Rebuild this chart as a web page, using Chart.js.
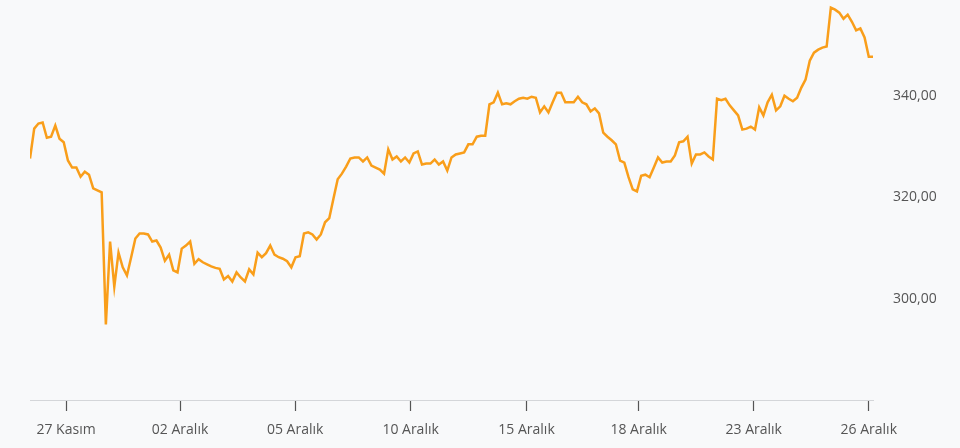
<!DOCTYPE html>
<html>
<head>
<meta charset="utf-8">
<script src="https://cdn.jsdelivr.net/npm/chart.js@4"></script>
<style>
  html, body { margin: 0; padding: 0; background: #f8f9fa; }
  #wrap { width: 960px; height: 448px; position: relative; }
</style>
</head>
<body>
<div id="wrap"><canvas id="c"></canvas></div>
<script>
// Price series (sample order, left to right)
const prices = [
  327.7, 333.6, 334.6, 334.8, 331.8, 332.0, 334.2, 331.6, 330.9, 327.3,
  325.9, 325.9, 324.1, 325.1, 324.5, 321.8, 321.4, 321.0, 294.9, 311.3,
  302.4, 309.1, 306.2, 304.6, 308.2, 311.9, 312.9, 312.9, 312.7, 311.3,
  311.5, 310.1, 307.5, 308.7, 305.6, 305.2, 309.9, 310.5, 311.3, 306.9,
  307.8, 307.2, 306.8, 306.4, 306.1, 305.9, 303.8, 304.5, 303.4, 305.2,
  304.2, 303.4, 305.8, 304.8, 309.1, 308.2, 309.0, 310.5, 308.7, 308.2,
  307.9, 307.4, 306.2, 308.2, 308.4, 312.9, 313.1, 312.7, 311.7, 312.7,
  315.1, 315.9, 319.8, 323.6, 324.7, 326.1, 327.7, 327.9, 327.9, 327.1,
  327.9, 326.3, 325.9, 325.5, 324.7, 329.5, 327.5, 328.1, 327.1, 327.9,
  326.9, 328.7, 329.1, 326.5, 326.7, 326.7, 327.5, 326.5, 327.1, 325.3,
  327.9, 328.5, 328.7, 328.9, 330.5, 330.5, 332.0, 332.2, 332.2, 338.4,
  338.8, 340.7, 338.4, 338.6, 338.4, 339.0, 339.5, 339.7, 339.5, 339.9,
  339.7, 336.8, 338.0, 336.8, 338.8, 340.7, 340.7, 338.8, 338.8, 338.8,
  339.9, 338.8, 338.4, 337.0, 337.6, 336.6, 332.8, 332.0, 331.3, 330.5,
  327.3, 326.9, 324.0, 321.6, 321.2, 324.3, 324.5, 324.0, 325.9, 327.9,
  326.9, 327.1, 327.1, 328.3, 330.9, 331.1, 332.0, 326.7, 328.5, 328.5,
  328.9, 328.1, 327.5, 339.5, 339.2, 339.5, 338.2, 337.2, 336.2, 333.4,
  333.6, 334.0, 333.4, 337.8, 336.2, 338.8, 340.3, 337.2, 338.0, 340.1,
  339.5, 339.0, 339.7, 341.7, 343.3, 347.0, 348.6, 349.2, 349.6, 349.8,
  357.5, 357.1, 356.5, 355.3, 356.1, 354.7, 353.0, 353.4, 351.6, 347.8,
  347.8
];

// X tick labels and the sample positions they sit at
const tickLabels = ["27 Kasım", "02 Aralık", "05 Aralık", "10 Aralık", "15 Aralık", "18 Aralık", "23 Aralık", "26 Aralık"];
const tickIndex  = [8.55, 35.6, 62.9, 90.3, 117.8, 144.4, 171.7, 199.0];

// Y tick values
const yTicks = [300, 320, 340];

const points = prices.map((v, i) => ({ x: i, y: v }));
const fmt = v => v.toLocaleString('tr-TR', { minimumFractionDigits: 2, maximumFractionDigits: 2 });

new Chart(document.getElementById('c'), {
  type: 'line',
  data: {
    datasets: [{
      data: points,
      borderColor: '#f99e1a',
      borderWidth: 2.5,
      pointRadius: 0,
      tension: 0,
      fill: false
    }]
  },
  options: {
    responsive: true,
    maintainAspectRatio: false,
    animation: false,
    layout: { padding: { left: 30, right: 0, top: 0, bottom: 0 } },
    plugins: { legend: { display: false }, tooltip: { enabled: false } },
    scales: {
      x: {
        type: 'linear',
        min: 0,
        max: prices.length - 1,
        afterBuildTicks: s => { s.ticks = tickIndex.map(v => ({ value: v })); },
        afterFit: s => { s.height = 48; },
        grid: { display: true, drawOnChartArea: false, drawTicks: true, tickLength: 11, tickColor: '#555', tickWidth: 1.2 },
        border: { display: true, color: '#d4d6d9', width: 1 },
        ticks: {
          autoSkip: false,
          maxRotation: 0,
          padding: 11,
          color: '#555',
          font: { family: 'Open Sans', size: 14 },
          callback: (v, i) => tickLabels[i]
        }
      },
      y: {
        position: 'right',
        min: 280,
        max: 359,
        afterBuildTicks: s => { s.ticks = yTicks.map(v => ({ value: v })); },
        afterFit: s => { s.width = 87; s.paddingTop = 0; s.paddingBottom = 0; },
        grid: { display: false, drawTicks: false },
        border: { display: false },
        ticks: {
          padding: 20,
          color: '#555',
          font: { family: 'Open Sans', size: 14 },
          callback: v => fmt(v)
        }
      }
    }
  }
});
</script>
</body>
</html>
